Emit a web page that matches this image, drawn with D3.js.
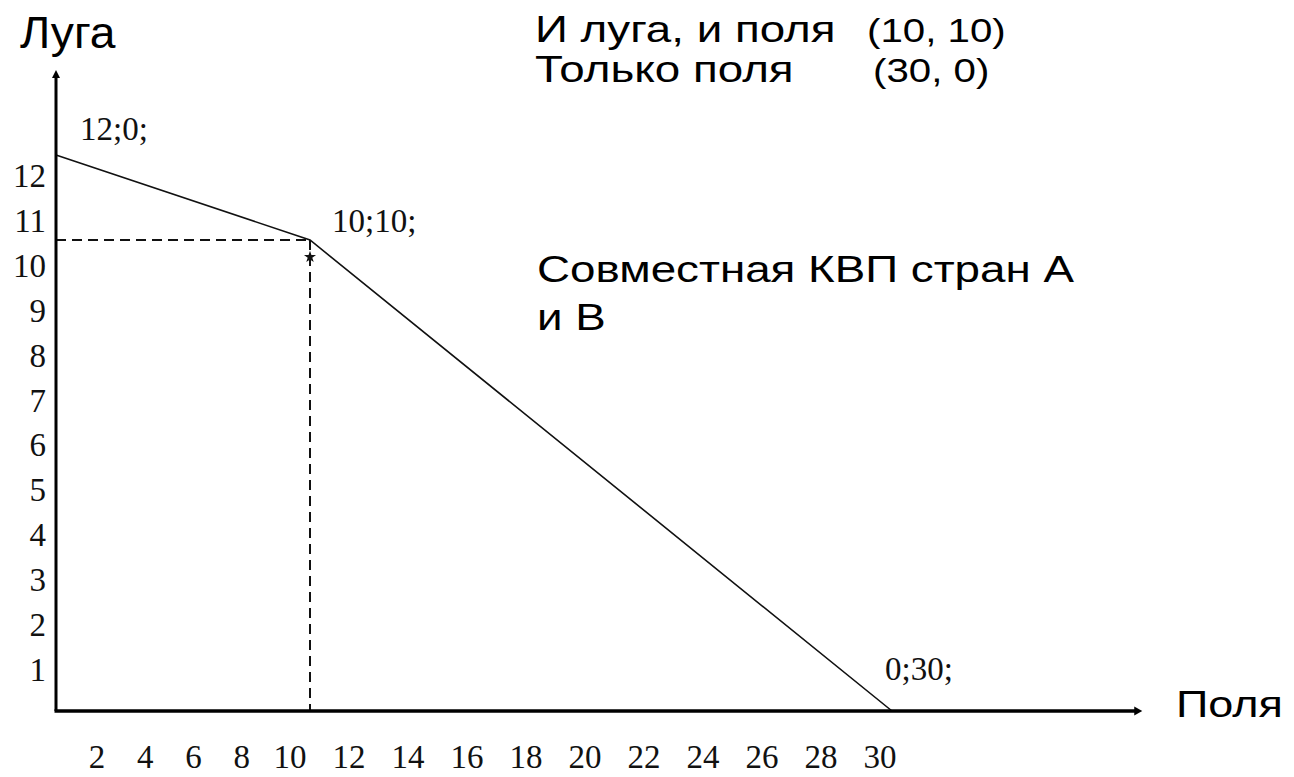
<!DOCTYPE html>
<html>
<head>
<meta charset="utf-8">
<script src="https://cdn.jsdelivr.net/npm/d3@7"></script>
<style>
  body { margin: 0; background: #fff; }
  svg { display: block; }
</style>
</head>
<body>
<div id="chart"></div>
<script>
// КВП: луга (y) и поля (x)
var fields = [0, 10, 30];
var meadows = [12, 10, 0];
var point_labels = ["12;0;", "10;10;", "0;30;"];
var x_ticks = [2, 4, 6, 8, 10, 12, 14, 16, 18, 20, 22, 24, 26, 28, 30];
var y_ticks = [1, 2, 3, 4, 5, 6, 7, 8, 9, 10, 11, 12];
var legend_names = ["И луга, и поля", "Только поля"];
var legend_coords = ["(10, 10)", "(30, 0)"];

var width = 1294;
var height = 777;
var sans = "'Liberation Sans', Arial, sans-serif";
var serif = "'Liberation Serif', 'Times New Roman', serif";

// the original drawing is not to scale, so the scales are piecewise
var x_scale = d3.scaleLinear().domain([0, 10, 30]).range([56, 310, 892]);
var y_scale = d3.scaleLinear().domain([0, 10, 12]).range([711, 240, 155]);
var x_label_scale = d3.scaleLinear().domain([2, 10, 30]).range([97, 290, 880]);
var y_label_scale = d3.scaleLinear().domain([1, 12]).range([681, 187]);
var x_end = 38.6, y_end = 14;

var svg = d3.select("#chart")
    .append("svg")
    .attr("width", width)
    .attr("height", height);

var points = fields.map(function (f, i) { return { x: f, y: meadows[i], label: point_labels[i] }; });

// dashed guides to the kink
var kink = points[1];
svg.append("line")
    .attr("x1", x_scale(0)).attr("y1", y_scale(kink.y))
    .attr("x2", x_scale(kink.x)).attr("y2", y_scale(kink.y))
    .attr("stroke", "#111").attr("stroke-width", 2)
    .attr("stroke-dasharray", "10,6");
svg.append("line")
    .attr("x1", x_scale(kink.x)).attr("y1", y_scale(kink.y))
    .attr("x2", x_scale(kink.x)).attr("y2", y_scale(0))
    .attr("stroke", "#111").attr("stroke-width", 2)
    .attr("stroke-dasharray", "10,6");

// the curve
var line = d3.line()
    .x(function (d) { return x_scale(d.x); })
    .y(function (d) { return y_scale(d.y); });
svg.append("path")
    .datum(points)
    .attr("d", line)
    .attr("fill", "none")
    .attr("stroke", "#111")
    .attr("stroke-width", 1.6);

svg.append("path")
    .attr("d", d3.symbol(d3.symbolStar, 45)())
    .attr("transform", "translate(" + x_scale(kink.x) + "," + (y_scale(kink.y) + 17) + ")")
    .attr("fill", "#111");

// axes
svg.append("line")
    .attr("x1", x_scale(0)).attr("y1", y_scale(0))
    .attr("x2", x_scale(0)).attr("y2", y_scale(y_end) + 6)
    .attr("stroke", "#000").attr("stroke-width", 3);
svg.append("line")
    .attr("x1", x_scale(0) - 1.5).attr("y1", y_scale(0))
    .attr("x2", x_scale(x_end) - 6).attr("y2", y_scale(0))
    .attr("stroke", "#000").attr("stroke-width", 3.5);
svg.append("path")
    .attr("d", d3.line()([[x_scale(0) - 4, y_scale(y_end) + 8], [x_scale(0), y_scale(y_end)], [x_scale(0) + 4, y_scale(y_end) + 8]]) + "Z")
    .attr("fill", "#000");
svg.append("path")
    .attr("d", d3.line()([[x_scale(x_end) - 8, y_scale(0) - 4.5], [x_scale(x_end), y_scale(0)], [x_scale(x_end) - 8, y_scale(0) + 4.5]]) + "Z")
    .attr("fill", "#000");

// tick labels
svg.selectAll(".x-lab").data(x_ticks)
    .enter().append("text")
    .attr("class", "x-lab")
    .attr("x", function (d) { return x_label_scale(d); })
    .attr("y", 768)
    .attr("text-anchor", "middle")
    .attr("font-family", serif)
    .attr("font-size", 33)
    .attr("fill", "#111")
    .text(function (d) { return d; });
svg.selectAll(".y-lab").data(y_ticks)
    .enter().append("text")
    .attr("class", "y-lab")
    .attr("x", 46)
    .attr("y", function (d) { return y_label_scale(d); })
    .attr("text-anchor", "end")
    .attr("font-family", serif)
    .attr("font-size", 33)
    .attr("fill", "#111")
    .text(function (d) { return d; });

// point labels
var label_offsets = [[24, -15], [22, -8], [-7, -31]];
svg.selectAll(".pt-lab").data(points)
    .enter().append("text")
    .attr("class", "pt-lab")
    .attr("x", function (d, i) { return x_scale(d.x) + label_offsets[i][0]; })
    .attr("y", function (d, i) { return y_scale(d.y) + label_offsets[i][1]; })
    .attr("font-family", serif)
    .attr("font-size", 33)
    .attr("fill", "#111")
    .text(function (d) { return d.label; });

// slide text (stretched horizontally like the source)
function wide_text(x, y, size, sx, str) {
    svg.append("text")
        .attr("transform", "translate(" + x + "," + y + ") scale(" + sx + ",1)")
        .attr("font-family", sans)
        .attr("font-size", size)
        .attr("fill", "#000")
        .text(str);
}
wide_text(20, 48, 44, 1.05, "Луга");
legend_names.forEach(function (name, i) {
    wide_text(535, 42 + i * 40, 37.5, 1.22, name);
});
legend_coords.forEach(function (c, i) {
    wide_text(i == 0 ? 867 : 873, 42 + i * 40, 33, 1.22, c);
});
wide_text(537, 282, 37.5, 1.22, "Совместная КВП стран А");
wide_text(537, 330, 37.5, 1.22, "и В");
wide_text(1176, 717, 36, 1.25, "Поля");
</script>
</body>
</html>
